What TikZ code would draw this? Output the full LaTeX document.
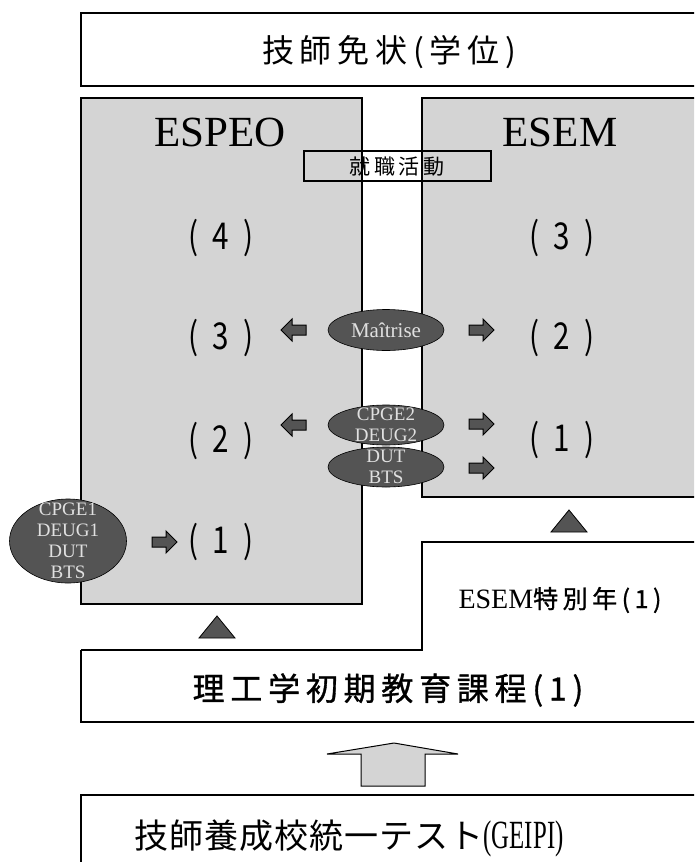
\documentclass[tikz,border=0pt]{standalone}
\usepackage{fontspec}
\setmainfont{Liberation Serif}
\newfontfamily\jafont{Noto Sans CJK JP}[LetterSpace=18]
\newfontfamily\jaheavy{Noto Sans CJK JP}[LetterSpace=18,FakeBold=1]
\newfontfamily\japlain{Noto Sans CJK JP}[LetterSpace=3]
\newfontfamily\numfont{Noto Sans CJK JP}[FakeStretch=0.8,LetterSpace=20]
\newfontfamily\narrowserif{Liberation Serif}[FakeStretch=0.62]
\usetikzlibrary{shapes,calc}
\definecolor{boxgray}{gray}{0.83}
\definecolor{ovalgray}{gray}{0.33}
\definecolor{ovaltextgray}{gray}{0.88}
\tikzstyle{frame}=[draw=black, line width=1.5pt]
\tikzstyle{panel}=[fill=boxgray, draw=black, line width=1.5pt]
\tikzstyle{oval}=[ellipse, draw=black, fill=ovalgray, inner sep=0pt, line width=0.6pt]
\tikzstyle{ovaltext}=[text=ovaltextgray, align=center, inner sep=0pt, font=\fontsize{19}{21}\selectfont]
\tikzstyle{school}=[inner sep=0pt, font=\fontsize{43}{46}\selectfont]
\tikzstyle{year}=[inner sep=0pt, font=\numfont\fontsize{37}{40}\selectfont]
\tikzstyle{jatitle}=[inner sep=0pt, font=\jafont\fontsize{32}{36}\selectfont]
\tikzstyle{markfill}=[fill=ovalgray, draw=black, line width=1pt]
\newcommand{\blockArrow}[2]{
	\draw[markfill, shift={#1}, rotate=#2] (-12,-5) -- (2,-5) -- (2,-11) -- (13,0) -- (2,11) -- (2,5) -- (-12,5) -- cycle;
}
\newcommand{\upTriangle}[1]{
	\draw[markfill, line width=0.8pt, shift={#1}] (-18,11) -- (0,-11) -- (18,11) -- cycle;
}
\begin{document}
\begin{tikzpicture}[x=1pt,y=-1pt]
	\clip (0,0) rectangle (694,862);
	\fill[white] (0,0) rectangle (694,862);
	\draw[frame] (81,13) rectangle (700,86);
	\node[jatitle] (diploma) at (389,52) {技師免状(学位)};
	\draw[panel] (81,98) rectangle (362,604);
	\draw[panel] (422,98) rectangle (700,497);
	\node[school] (espeo) at (220,132) {ESPEO};
	\node[school] (esem) at (560,132) {ESEM};
	\draw[frame, line width=1.2pt] (304,151) rectangle (491,181);
	\node[inner sep=0pt, font=\jafont\fontsize{21}{24}\selectfont] (job) at (397,167) {就職活動};
	\node[year] (espeoFour) at (221,238) {( 4 )};
	\node[year] (espeoThree) at (221,338) {( 3 )};
	\node[year] (espeoTwo) at (221,441) {( 2 )};
	\node[year] (espeoOne) at (221,542) {( 1 )};
	\node[year] (esemThree) at (562,238) {( 3 )};
	\node[year] (esemTwo) at (562,338) {( 2 )};
	\node[year] (esemOne) at (562,440) {( 1 )};
	\node[oval, minimum width=116, minimum height=41] (maitrise) at (386,330) {};
	\node[ovaltext, font=\fontsize{21}{24}\selectfont] (maitriseText) at (maitrise) {Maîtrise};
	\node[oval, minimum width=116, minimum height=40] (cpgeTwo) at (386,425) {};
	\node[ovaltext] (cpgeTwoText) at (cpgeTwo) {CPGE2\\DEUG2};
	\node[oval, minimum width=116, minimum height=40] (dutTwo) at (386,467) {};
	\node[ovaltext] (dutTwoText) at (dutTwo) {DUT\\BTS};
	\node[oval, minimum width=117, minimum height=84] (cpgeOne) at (68,541) {};
	\node[ovaltext] (cpgeOneText) at (cpgeOne) {CPGE1\\DEUG1\\DUT\\BTS};
	\blockArrow{(294,330)}{180}
	\blockArrow{(481,330)}{0}
	\blockArrow{(294,425)}{180}
	\blockArrow{(481,424)}{0}
	\blockArrow{(481,468)}{0}
	\blockArrow{(164,542)}{0}
	\upTriangle{(569,521)}
	\upTriangle{(217,627)}
	\draw[frame] (81,650) -- (422,650) -- (422,542) -- (700,542);
	\draw[frame] (81,650) -- (81,722) -- (700,722);
	\node[inner sep=0pt] (esemSpecial) at (560,600) {\fontsize{28}{30}\selectfont ESEM\jaheavy\fontsize{25}{30}\selectfont 特別年(1)};
	\node[jatitle, font=\jaheavy\fontsize{32}{36}\selectfont] (prepa) at (388,690) {理工学初期教育課程(1)};
	\draw[fill=boxgray, draw=black, line width=1pt] (361,786) -- (361,754) -- (327,754) -- (394,743) -- (458,754) -- (425,754) -- (425,786) -- cycle;
	\draw[frame] (81,795) rectangle (700,870);
	\node[inner sep=0pt] (geipi) at (349,838) {\japlain\fontsize{34}{38}\selectfont 技師養成校統一テスト\narrowserif\fontsize{40}{42}\selectfont(GEIPI)};
\end{tikzpicture}
\end{document}
